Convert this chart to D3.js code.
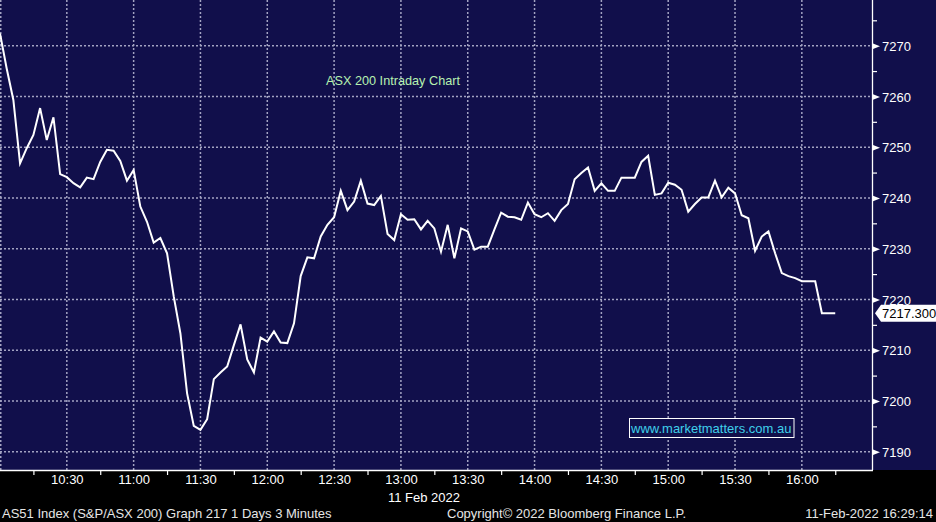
<!DOCTYPE html>
<html>
<head>
<meta charset="utf-8">
<script src="https://cdn.jsdelivr.net/npm/d3@7/dist/d3.min.js"></script>
<style>
  html, body { margin: 0; padding: 0; background: #000; }
  svg { display: block; }
  text { font-family: "Liberation Sans", Arial, sans-serif; }
</style>
</head>
<body>
<svg id="chart" width="936" height="522"></svg>
<script>
// ---------- data ----------
const chartTitle = "ASX 200 Intraday Chart";
const watermark = "www.marketmatters.com.au";
const dateLabel = "11 Feb 2022";
const footerLeft = "AS51 Index (S&P/ASX 200) Graph 217 1 Days 3 Minutes";
const footerMid = "Copyright\u00A9 2022 Bloomberg Finance L.P.";
const footerRight = "11-Feb-2022 16:29:14";
const lastPriceLabel = "7217.300";

const sessionStart = "10:00";       // first bar
const sessionAxisEnd = "16:31:30";  // right edge of plot
const barMinutes = 3;

// ASX 200 values, one per 3-minute bar from 10:00
const prices = [
  7272.4, 7265.5, 7259.3, 7246.8, 7249.8, 7252.4, 7257.7, 7251.4, 7255.9, 7244.7,
  7244.1, 7242.9, 7242.1, 7244.0, 7243.7, 7247.1, 7249.5, 7249.3, 7247.3, 7243.4,
  7245.5, 7238.3, 7235.3, 7231.2, 7232.1, 7229.1, 7220.6, 7213.3, 7201.5, 7195.1,
  7194.3, 7196.4, 7204.3, 7205.6, 7206.8, 7211.0, 7215.1, 7208.2, 7205.6, 7212.5,
  7211.7, 7213.7, 7211.5, 7211.4, 7215.3, 7224.6, 7228.3, 7228.1, 7232.4, 7234.7,
  7236.2, 7241.4, 7237.6, 7239.3, 7243.4, 7238.9, 7238.6, 7240.4, 7232.9, 7231.7,
  7236.8, 7235.7, 7235.8, 7233.8, 7235.5, 7234.0, 7229.4, 7234.7, 7228.1, 7234.0,
  7233.4, 7229.8, 7230.4, 7230.4, 7233.8, 7237.1, 7236.3, 7236.2, 7235.7, 7239.1,
  7236.8, 7236.2, 7237.0, 7235.5, 7237.6, 7238.8, 7243.7, 7244.9, 7246.0, 7241.4,
  7242.9, 7241.4, 7241.4, 7244.0, 7244.0, 7244.0, 7247.1, 7248.3, 7240.6, 7240.9,
  7243.0, 7242.6, 7241.6, 7237.3, 7238.8, 7240.1, 7240.1, 7243.4, 7240.1, 7242.0,
  7240.9, 7236.6, 7236.0, 7229.6, 7232.4, 7233.4, 7229.1, 7225.2, 7224.6, 7224.2,
  7223.6, 7223.6, 7223.6, 7217.3, 7217.3, 7217.3
];

const timeLabels = ["10:00","10:30","11:00","11:30","12:00","12:30","13:00","13:30","14:00","14:30","15:00","15:30","16:00"];
const minorTimeTicks = ["10:15","10:45","11:15","11:45","12:15","12:45","13:15","13:45","14:15","14:45","15:15","15:45","16:15"];
const priceTicks = [7190, 7200, 7210, 7220, 7230, 7240, 7250, 7260, 7270];
const minorPriceTicks = [7195, 7205, 7215, 7225, 7235, 7245, 7255, 7265, 7275];
const priceDomain = [7186.4, 7279.0];

// ---------- layout ----------
const W = 936, H = 522;
const plot = { left: 0, top: 0, right: 872, bottom: 470 };

const parseT = s => {
  const p = s.split(":").map(Number);
  return new Date(2022, 1, 11, p[0], p[1], p[2] || 0);
};
const t0 = parseT(sessionStart);
const series = prices.map((v, i) => ({ t: new Date(t0.getTime() + i * barMinutes * 60000), v }));

const x = d3.scaleTime().domain([t0, parseT(sessionAxisEnd)]).range([plot.left, plot.right]);
const y = d3.scaleLinear().domain(priceDomain).range([plot.bottom, plot.top]);

const svg = d3.select("#chart");

// backgrounds
svg.append("rect").attr("x", 0).attr("y", 0).attr("width", W).attr("height", H).attr("fill", "#000");
svg.append("rect").attr("x", 0).attr("y", 0).attr("width", W).attr("height", plot.bottom).attr("fill", "#110f4b");

// gridlines
const gridColor = "#a3a3c2";
const grid = svg.append("g");
grid.selectAll("line.vg").data(timeLabels.map(parseT)).join("line")
  .attr("x1", d => Math.max(0.75, x(d))).attr("x2", d => Math.max(0.75, x(d)))
  .attr("y1", plot.top).attr("y2", plot.bottom)
  .attr("stroke", gridColor).attr("stroke-width", 1.5).attr("stroke-dasharray", "2,2");
grid.selectAll("line.hg").data(priceTicks).join("line")
  .attr("x1", plot.left).attr("x2", plot.right - 2)
  .attr("y1", d => y(d)).attr("y2", d => y(d))
  .attr("stroke", gridColor).attr("stroke-width", 1.5).attr("stroke-dasharray", "2,2");

// title & watermark
svg.append("text").attr("x", 326).attr("y", 85).attr("fill", "#b6f2b0")
  .style("font-size", "12.7px").text(chartTitle);

const wm = svg.append("g");
wm.append("rect").attr("x", 629.5).attr("y", 418.5).attr("width", 164.5).attr("height", 19)
  .attr("fill", "#110f4b").attr("stroke", "#ffffff").attr("stroke-width", 1);
wm.append("text").attr("x", 631).attr("y", 433).attr("fill", "#3fcfea")
  .style("font-size", "13px").text(watermark);

// price line
const line = d3.line().x(d => x(d.t)).y(d => y(d.v));
svg.append("path").datum(series).attr("d", line)
  .attr("fill", "none").attr("stroke", "#ffffff").attr("stroke-width", 2)
  .attr("stroke-linejoin", "miter");

// right axis
const yAxisG = svg.append("g").attr("transform", `translate(${plot.right},0)`);
yAxisG.call(d3.axisRight(y).tickValues(minorPriceTicks).tickSize(5).tickFormat(""))
  .call(g => g.select(".domain").remove())
  .call(g => g.selectAll(".tick line").attr("stroke", "#fff").attr("stroke-width", 1.2));
const yMajor = svg.append("g").attr("transform", `translate(${plot.right},0)`);
yMajor.call(d3.axisRight(y).tickValues(priceTicks).tickSize(0).tickPadding(10).tickFormat(d3.format("d")))
  .call(g => g.select(".domain").remove())
  .call(g => g.selectAll(".tick text").attr("fill", "#ffffff").attr("dy", "0.36em")
      .style("font-size", "13px").style("font-family", "'Liberation Sans', Arial, sans-serif"))
  .call(g => g.selectAll(".tick").append("path").attr("d", "M1,-2.8L8,0L1,2.8Z").attr("fill", "#fff"));
svg.append("line").attr("x1", plot.right + 0.5).attr("x2", plot.right + 0.5)
  .attr("y1", 0).attr("y2", plot.bottom).attr("stroke", "#fff").attr("stroke-width", 1.3);

// bottom axis
svg.append("line").attr("x1", 0).attr("x2", plot.right + 1)
  .attr("y1", plot.bottom + 0.5).attr("y2", plot.bottom + 0.5).attr("stroke", "#fff").attr("stroke-width", 1.3);
const xMinor = svg.append("g").attr("transform", `translate(0,${plot.bottom})`);
xMinor.call(d3.axisBottom(x).tickValues(minorTimeTicks.map(parseT)).tickSize(5).tickFormat(""))
  .call(g => g.select(".domain").remove())
  .call(g => g.selectAll(".tick line").attr("stroke", "#fff").attr("stroke-width", 1.2));
const xMajor = svg.append("g").attr("transform", `translate(0,${plot.bottom})`);
xMajor.call(d3.axisBottom(x).tickValues(timeLabels.slice(1).map(parseT)).tickSize(0).tickPadding(5)
    .tickFormat(d3.timeFormat("%H:%M")))
  .call(g => g.select(".domain").remove())
  .call(g => g.selectAll(".tick text").attr("fill", "#ffffff")
      .style("font-size", "13px").style("font-family", "'Liberation Sans', Arial, sans-serif"));

svg.append("text").attr("x", 388).attr("y", 501.5).attr("fill", "#fff")
  .style("font-size", "13px").text(dateLabel);

// last price label
const lastY = y(prices[prices.length - 1]);
const lp = svg.append("g");
lp.append("path")
  .attr("d", `M${plot.right + 3},${lastY}L${plot.right + 9},${lastY - 8.5}L${W},${lastY - 8.5}L${W},${lastY + 8.5}L${plot.right + 9},${lastY + 8.5}Z`)
  .attr("fill", "#ffffff");
lp.append("text").attr("x", 882).attr("y", lastY + 4.8).attr("fill", "#000")
  .style("font-size", "13px").text(lastPriceLabel);

// footer
const footer = svg.append("g").attr("fill", "#e6e6e6").style("font-size", "13px");
footer.append("text").attr("x", 2).attr("y", 518).text(footerLeft);
footer.append("text").attr("x", 447).attr("y", 518).text(footerMid);
footer.append("text").attr("x", 933).attr("y", 518).attr("text-anchor", "end").text(footerRight);
</script>
</body>
</html>
